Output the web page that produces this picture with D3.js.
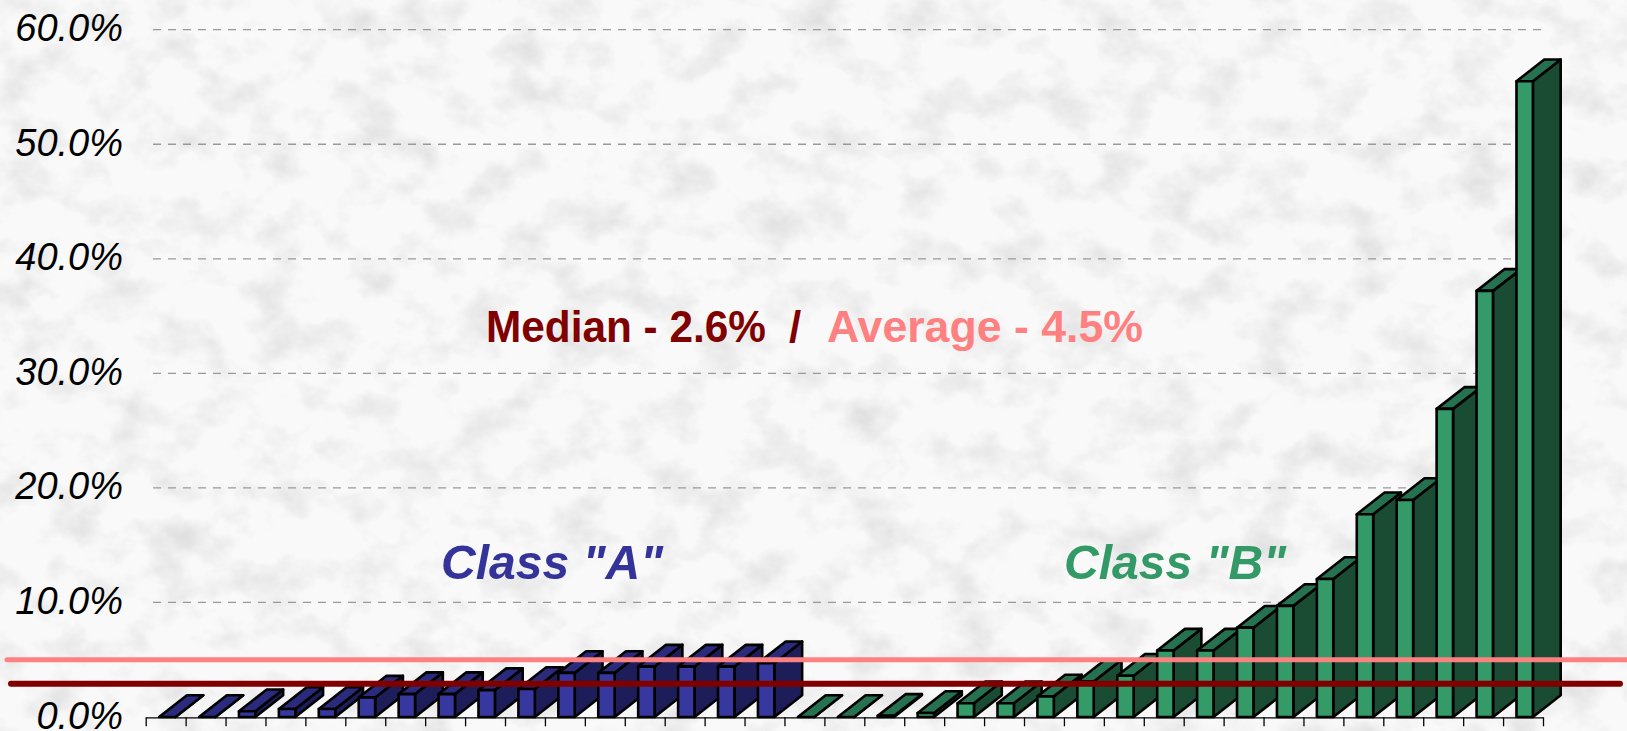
<!DOCTYPE html>
<html>
<head>
<meta charset="utf-8">
<script src="https://cdn.jsdelivr.net/npm/d3@7/dist/d3.min.js"></script>
<style>
  html, body { margin: 0; padding: 0; background: #f8f8f8; }
  svg { display: block; }
  text { font-family: "Liberation Sans", Arial, sans-serif; }
</style>
</head>
<body>
<svg id="chart" width="1627" height="731"></svg>
<script>
// ---------------- DATA ----------------
const classAValues = [0, 0, 0.5, 0.7, 0.7, 1.7, 2.0, 2.0, 2.35, 2.45, 3.85, 3.85, 4.4, 4.4, 4.4, 4.7];
const classBValues = [0, 0, 0.1, 0.35, 1.2, 1.2, 1.8, 3.1, 3.6, 5.8, 5.8, 7.8, 9.7, 12.05, 17.7, 18.95, 26.9, 37.2, 55.5];
const classACategories = classAValues.map((_, i) => "A" + (i + 1));
const classBCategories = classBValues.map((_, i) => "B" + (i + 1));
const yTickValues = [0, 10, 20, 30, 40, 50, 60];
const medianLineValue = 2.9;   // position of the drawn median line
const averageLineValue = 5.0;  // position of the drawn average line
const medianLabel = "Median - 2.6%";
const averageLabel = "Average - 4.5%";
const classALabel = 'Class "A"';
const classBLabel = 'Class "B"';

// ---------------- SETUP ----------------
const W = 1627, H = 731;
const svg = d3.select("#chart");

// background texture
const defs = svg.append("defs");
const f = defs.append("filter").attr("id", "tex").attr("x", 0).attr("y", 0).attr("width", "100%").attr("height", "100%");
f.append("feTurbulence").attr("type", "fractalNoise").attr("baseFrequency", "0.02 0.025").attr("numOctaves", 4).attr("seed", 7);
f.append("feColorMatrix").attr("type", "matrix")
  .attr("values", "0 0 0 0 0.5  0 0 0 0 0.5  0 0 0 0 0.5  1.3 0 0 0 -0.6");
svg.append("rect").attr("width", W).attr("height", H).attr("fill", "#f9f9f9");
svg.append("rect").attr("width", W).attr("height", H).attr("filter", "url(#tex)").attr("opacity", 0.7);

const categories = classACategories.concat(classBCategories);
const values = classAValues.concat(classBValues);
const groupOf = classACategories.map(() => "A").concat(classBCategories.map(() => "B"));

const x = d3.scaleBand().domain(categories).range([145.7, 1543]).paddingInner(0).paddingOuter(0);
const y = d3.scaleLinear().domain([0, 60]).range([717, 29.7]);

// ---------------- GRIDLINES ----------------
svg.append("g").selectAll("line")
  .data(yTickValues.filter(d => d > 0))
  .join("line")
  .attr("x1", 153).attr("x2", 1548)
  .attr("y1", d => y(d)).attr("y2", d => y(d))
  .attr("stroke", "#999").attr("stroke-width", 1.3)
  .attr("stroke-dasharray", "8,7");

// ---------------- Y AXIS LABELS ----------------
const yAxis = d3.axisLeft(y).tickValues(yTickValues).tickSize(0)
  .tickFormat(d => d3.format(".1f")(d) + "%");
const gy = svg.append("g").attr("transform", "translate(123,0)").call(yAxis);
gy.select(".domain").remove();
gy.selectAll("text")
  .attr("x", 0).attr("dy", "0.29em")
  .attr("font-size", 38).attr("font-style", "italic")
  .attr("font-family", '"Liberation Sans", Arial, sans-serif')
  .attr("fill", "#000");

// ---------------- X AXIS (floor edge + ticks) ----------------
const xEdge = d3.scaleLinear().domain([0, categories.length]).range(x.range());
const gx = svg.append("g").attr("transform", "translate(0,717.3)")
  .call(d3.axisBottom(xEdge).tickValues(d3.range(categories.length + 1)).tickFormat("").tickSizeInner(9).tickSizeOuter(0));
gx.select(".domain").attr("stroke", "#000").attr("stroke-width", 1.3);
gx.selectAll(".tick line").attr("stroke", "#000").attr("stroke-width", 1.3);

// ---------------- 3D BARS ----------------
const colors = {
  A: { front: "#3737a0", side: "#1d1d5a", top: "#2b2b7e" },
  B: { front: "#339a68", side: "#1a4c33", top: "#257150" }
};
const dx = 27.8, dy = 21.7;
const bw = 16.4;
const bars = svg.append("g");
categories.forEach((c, i) => {
  const v = values[i];
  const col = colors[groupOf[i]];
  const x0 = x(c) + 13.4;
  const yb = y(0), yt = y(v);
  const g = bars.append("g").attr("stroke", "#000").attr("stroke-width", 2.6).attr("stroke-linejoin", "round");
  g.append("path")
    .attr("d", `M${x0 + bw},${yb} L${x0 + bw + dx},${yb - dy} L${x0 + bw + dx},${yt - dy} L${x0 + bw},${yt} Z`)
    .attr("fill", col.side);
  g.append("path")
    .attr("d", `M${x0},${yt} L${x0 + dx},${yt - dy} L${x0 + bw + dx},${yt - dy} L${x0 + bw},${yt} Z`)
    .attr("fill", col.top);
  g.append("rect")
    .attr("x", x0).attr("y", yt).attr("width", bw).attr("height", Math.max(0, yb - yt))
    .attr("fill", col.front);
});

// ---------------- MEDIAN / AVERAGE LINES ----------------
svg.append("line")
  .attr("x1", 7).attr("x2", 1630)
  .attr("y1", y(averageLineValue)).attr("y2", y(averageLineValue))
  .attr("stroke", "#ff8080").attr("stroke-width", 5).attr("stroke-linecap", "round");
svg.append("line")
  .attr("x1", 11).attr("x2", 1620)
  .attr("y1", y(medianLineValue)).attr("y2", y(medianLineValue))
  .attr("stroke", "#800000").attr("stroke-width", 6).attr("stroke-linecap", "round");

// ---------------- ANNOTATIONS ----------------
const ann = svg.append("g").attr("font-weight", "bold").attr("font-size", 44);
ann.append("text").attr("x", 486).attr("y", 342).attr("fill", "#800000")
  .attr("textLength", 280).attr("lengthAdjust", "spacingAndGlyphs").text(medianLabel);
ann.append("text").attr("x", 789).attr("y", 342).attr("fill", "#800000").text("/");
ann.append("text").attr("x", 827).attr("y", 342).attr("fill", "#ff8080")
  .attr("textLength", 316).attr("lengthAdjust", "spacingAndGlyphs").text(averageLabel);

const cls = svg.append("g").attr("font-weight", "bold").attr("font-style", "italic").attr("font-size", 49);
cls.append("text").attr("x", 441).attr("y", 579).attr("fill", "#333399")
  .attr("textLength", 222).attr("lengthAdjust", "spacingAndGlyphs").text(classALabel);
cls.append("text").attr("x", 1064).attr("y", 579).attr("fill", "#339966")
  .attr("textLength", 222).attr("lengthAdjust", "spacingAndGlyphs").text(classBLabel);
</script>
</body>
</html>
